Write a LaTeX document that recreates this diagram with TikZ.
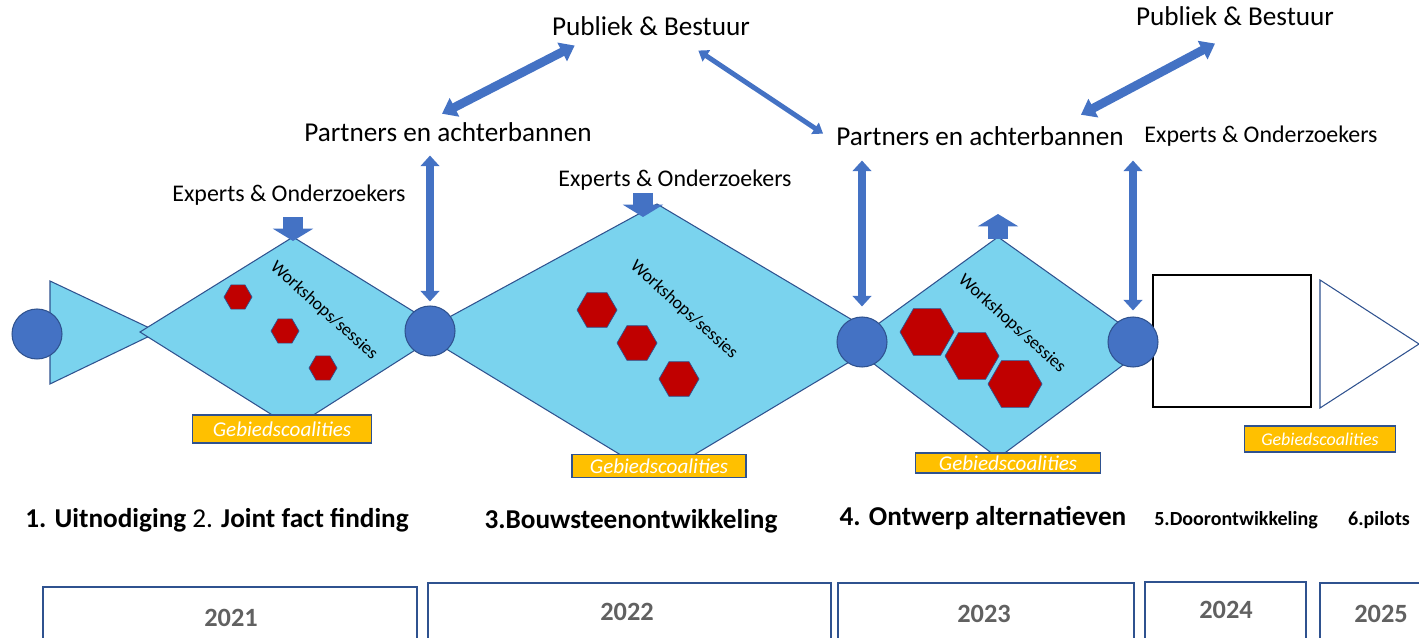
\documentclass[tikz,border=0pt]{standalone}
\usepackage{fontspec}
\setmainfont{Carlito}
\usepackage{tikz}
\usetikzlibrary{shapes.geometric, arrows.meta, calc, positioning}
\usepackage{xcolor}
\definecolor{mycyan}{HTML}{7AD3EE}
\definecolor{myblue}{HTML}{4472C4}
\definecolor{mynavy}{HTML}{2F528F}
\definecolor{myred}{HTML}{C00000}
\definecolor{mygold}{HTML}{FFC000}
\tikzset{
	phase/.style={fill=mycyan, draw=mynavy, line width=0.6pt},
	knot/.style={circle, fill=myblue, draw=mynavy, line width=0.6pt, minimum size=1cm, inner sep=0pt},
	hexa/.style={regular polygon, regular polygon sides=6, fill=myred, draw=mynavy, line width=0.4pt, inner sep=0pt},
	coal/.style={fill=mygold, draw=mynavy, line width=0.6pt, text=white, inner sep=0pt, font=\fontsize{12}{14}\selectfont\itshape},
	big/.style={inner sep=0pt, font=\fontsize{15.5}{18}\selectfont},
	mid/.style={inner sep=0pt, font=\fontsize{13.6}{16}\selectfont},
	ws/.style={inner sep=0pt, rotate=-42, font=\fontsize{10.2}{12}\selectfont},
	stage/.style={inner sep=0pt, anchor=base, font=\fontsize{15.5}{18}\selectfont\bfseries},
	yr/.style={inner sep=0pt, anchor=base, text=black!62, font=\fontsize{15}{18}\selectfont\bfseries},
	yearbox/.style={draw=mynavy, line width=0.6pt},
	vdbl/.style={myblue, line width=4.5pt, {Triangle[width=10.5pt,length=6pt]}-{Triangle[width=10.5pt,length=6pt]}},
	ddbl/.style={myblue, line width=5pt, {Triangle[width=11.5pt,length=8pt]}-{Triangle[width=11.5pt,length=8pt]}},
	tdbl/.style={myblue, line width=2.8pt, {Triangle[width=7.5pt,length=5.5pt]}-{Triangle[width=7.5pt,length=5.5pt]}},
	blockarr/.style={myblue, line width=11.3pt, -{Triangle[width=22.7pt,length=7pt]}}
}

\begin{document}
\begin{tikzpicture}[x=0.02cm, y=-0.02cm]
	\useasboundingbox (0,0) rectangle (1419,638);
	\draw[phase] (50,281) -- (158,332) -- (50,384) -- cycle;
	\draw[phase] (140,332) -- (293,237) coordinate (t1) -- (445,331) -- (293,428) -- cycle;
	\draw[phase] (420,333) -- (657,204) coordinate (t2) -- (886,340) -- (657,477) -- cycle;
	\draw[phase] (849,345) -- (998,237) coordinate (t3) -- (1150,345) -- (998,458) -- cycle;
	\draw[black, line width=0.8pt] (1153,275) rectangle (1311,407);
	\draw[mynavy, line width=0.6pt] (1320,280) -- (1419,344) -- (1320,408) -- cycle;

	\node[hexa, minimum size=0.56cm] (h11) at (238,297) {};
	\node[hexa, minimum size=0.56cm] (h12) at (285,331) {};
	\node[hexa, minimum size=0.56cm] (h13) at (323,368) {};
	\node[hexa, minimum size=0.8cm] (h21) at (597,310) {};
	\node[hexa, minimum size=0.8cm] (h22) at (637,343) {};
	\node[hexa, minimum size=0.8cm] (h23) at (679,379) {};
	\node[hexa, minimum size=1.08cm] (h31) at (927,332) {};
	\node[hexa, minimum size=1.08cm] (h32) at (972,356) {};
	\node[hexa, minimum size=1.08cm] (h33) at (1015,384) {};

	\node[ws] (ws1) at (324,311) {Workshops/sessies};
	\node[ws] (ws2) at (684,310) {Workshops/sessies};
	\node[ws] (ws3) at (1012,324) {Workshops/sessies};

	\node[knot] (k1) at (37,334) {};
	\node[knot] (k2) at (430,331) {};
	\node[knot] (k3) at (862,342) {};
	\node[knot] (k4) at (1133,342) {};

	\node[coal, minimum width=3.58cm, minimum height=0.56cm] (g1) at (282,429) {Gebiedscoalities};
	\node[coal, minimum width=3.48cm, minimum height=0.46cm] (g2) at (659,466) {Gebiedscoalities};
	\node[coal, minimum width=3.7cm, minimum height=0.4cm] (g3) at (1008,463) {Gebiedscoalities};
	\node[coal, minimum width=3.02cm, minimum height=0.52cm, font=\fontsize{10.2}{12}\selectfont\itshape] (g4) at (1320,439) {Gebiedscoalities};

	\node[big, anchor=base] (pb1) at (651,36) {Publiek \& Bestuur};
	\node[big, anchor=base] (pb2) at (1235,26) {Publiek \& Bestuur};
	\node[big, anchor=base] (pa1) at (448,142) {Partners en achterbannen};
	\node[big, anchor=base] (pa2) at (980,146) {Partners en achterbannen};
	\node[mid, anchor=base] (ex1) at (289,202) {Experts \& Onderzoekers};
	\node[mid, anchor=base] (ex2) at (675,187) {Experts \& Onderzoekers};
	\node[mid, anchor=base] (ex3) at (1261,143) {Experts \& Onderzoekers};

	\draw[blockarr] ($(t1)+(0,-20)$) -- ($(t1)+(0,4)$);
	\draw[blockarr] ($(t2)+(-14,-11)$) -- ($(t2)+(-14,13)$);
	\draw[blockarr] ($(t3)+(0,2)$) -- ($(t3)+(0,-23)$);

	\draw[vdbl] ($(k2.north)+(0,-4)$) -- ($(k2.north |- pa1.south)+(0,13)$);
	\draw[vdbl] ($(k3.north)+(0,-10)$) -- ($(k3.north |- pa2.south)+(0,14)$);
	\draw[vdbl] ($(k4.north)+(0,-6)$) -- ($(k4.north |- pa2.south)+(0,14)$);
	\draw[ddbl] ($(pa1.north)+(-6,-9)$) -- ($(pb1.south west)+(23,9)$);
	\draw[tdbl] ($(pb1.south east)+(-52,14)$) -- ($(pa2.west)+(-13,-3)$);
	\draw[ddbl] ($(pa2.north east)+(-43,-12)$) -- ($(pb2.south)+(-20,17)$);

	\node[stage, anchor=base west] (s1) at (25,527) {1. Uitnodiging};
	\node[stage, anchor=base west] (s2) at (192,527) {\mdseries 2. \bfseries Joint fact finding};
	\node[stage] (s3) at (631,528) {3.Bouwsteenontwikkeling};
	\node[stage] (s4) at (983,525) {4. Ontwerp alternatieven};
	\node[stage, font=\fontsize{11.4}{14}\selectfont\bfseries] (s5) at (1236,525) {5.Doorontwikkeling};
	\node[stage, font=\fontsize{11.4}{14}\selectfont\bfseries] (s6) at (1379,525) {6.pilots};

	\draw[yearbox] (43,587) rectangle (417,660);
	\draw[yearbox] (428,583) rectangle (831,660);
	\draw[yearbox] (838,583) rectangle (1134,660);
	\draw[yearbox] (1145,582) rectangle (1306,660);
	\draw[yearbox] (1320,583) rectangle (1440,660);
	\node[yr] (y1) at (231,626) {2021};
	\node[yr] (y2) at (627,620) {2022};
	\node[yr] (y3) at (984,622) {2023};
	\node[yr] (y4) at (1226,618) {2024};
	\node[yr] (y5) at (1381,622) {2025};
\end{tikzpicture}
\end{document}
